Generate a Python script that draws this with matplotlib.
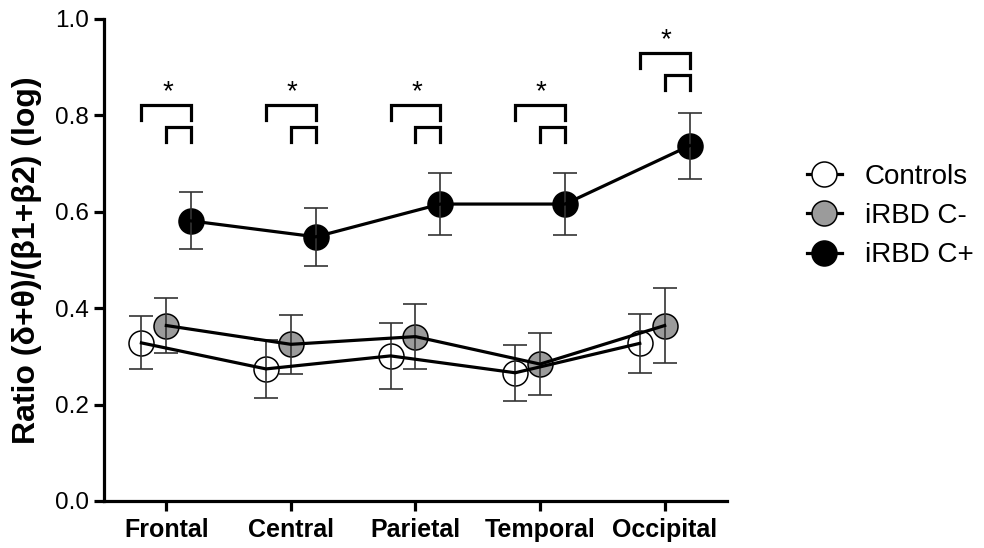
import matplotlib
matplotlib.use("Agg")
import matplotlib.pyplot as plt
import numpy as np

plt.rcParams['font.family'] = ['Liberation Sans', 'DejaVu Sans']

regions = ['Frontal', 'Central', 'Parietal', 'Temporal', 'Occipital']

# group means and error bars
controls_mean = [0.328, 0.274, 0.301, 0.266, 0.327]
controls_err = [0.055, 0.061, 0.068, 0.058, 0.061]
cneg_mean = [0.364, 0.325, 0.341, 0.284, 0.364]
cneg_err = [0.057, 0.061, 0.067, 0.064, 0.078]
cpos_mean = [0.581, 0.548, 0.616, 0.616, 0.737]
cpos_err = [0.059, 0.060, 0.065, 0.064, 0.068]

# height of the significance brackets per region
bracket_top = [0.822, 0.822, 0.822, 0.822, 0.929]

x = np.arange(len(regions))
off = 0.2

fig = plt.figure(figsize=(9.84, 5.48), dpi=100)
ax = fig.add_axes([0.1057, 0.0858, 0.6331, 0.8796])

groups = [
    ('Controls', -off, controls_mean, controls_err, 'white'),
    ('iRBD C-', 0.0, cneg_mean, cneg_err, '#9b9b9b'),
    ('iRBD C+', off, cpos_mean, cpos_err, 'black'),
]

for name, dx, m, e, fc in groups:
    xs = x + dx
    ax.errorbar(xs, m, yerr=e, fmt='none', ecolor='#333333', elinewidth=1.2,
                capsize=8.5, capthick=1.2, zorder=3)
    ax.plot(xs, m, ls='none', marker='o', ms=18, mfc=fc, mec='black', mew=1.1,
            zorder=2)
    ax.plot(xs, m, color='black', lw=2.3, zorder=4)

# significance brackets: controls vs C+ (upper) and C- vs C+ (lower)
leg_h = 0.031
gap = 0.0456
for i, top in enumerate(bracket_top):
    x0, x1, xm = x[i] - off, x[i] + off, x[i]
    ax.plot([x0, x0, x1, x1], [top - leg_h, top, top, top - leg_h],
            color='black', lw=2.3, solid_joinstyle='miter', zorder=5)
    t2 = top - gap
    ax.plot([xm, xm, x1, x1], [t2 - leg_h, t2, t2, t2 - leg_h],
            color='black', lw=2.3, solid_joinstyle='miter', zorder=5)
    ax.text(xm + 0.01, top, '*', ha='center', va='bottom', fontsize=20)

ax.set_xlim(-0.5, 4.5)
ax.set_ylim(0, 1.0)
ax.set_xticks(x)
ax.set_xticklabels(regions, fontsize=18, fontweight='bold')
ax.set_yticks([0.0, 0.2, 0.4, 0.6, 0.8, 1.0])
ax.set_yticklabels(['0.0', '0.2', '0.4', '0.6', '0.8', '1.0'], fontsize=17.5)
ax.tick_params(axis='both', width=2.3, length=7, direction='out')
ax.tick_params(axis='x', pad=5)
ax.tick_params(axis='y', pad=4)

for s in ['top', 'right']:
    ax.spines[s].set_visible(False)
for s in ['left', 'bottom']:
    ax.spines[s].set_linewidth(2.3)

ax.set_ylabel('Ratio (δ+θ)/(β1+β2) (log)', fontsize=23, fontweight='bold')
ax.yaxis.set_label_coords(-0.100, 0.5)

handles = []
for name, dx, m, e, fc in groups:
    h, = ax.plot([], [], color='black', lw=2.3, marker='o', ms=18, mfc=fc,
                 mec='black', mew=1.1, label=name)
    handles.append(h)
fig.legend(handles=handles, loc='center left', bbox_to_anchor=(0.820, 0.606),
           frameon=False, fontsize=20, handlelength=1.26, handletextpad=0.83,
           labelspacing=0.48, borderaxespad=0, borderpad=0)

fig.savefig('out.png', dpi=100)
